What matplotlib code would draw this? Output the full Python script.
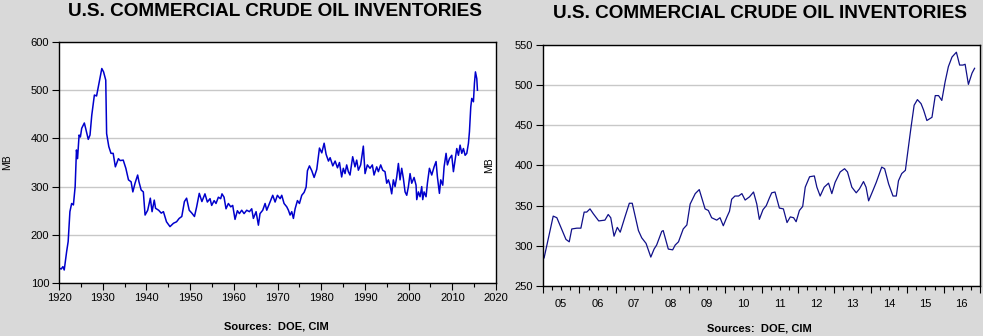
import matplotlib.pyplot as plt
from matplotlib.ticker import MultipleLocator, FixedLocator, NullFormatter
import numpy as np

# Long history (decimal year, million barrels)
hist_year = [1920.05, 1920.5, 1920.9, 1921.2, 1921.4, 1921.75, 1922.1, 1922.5, 1922.9, 1923.3,
             1923.7, 1924.0, 1924.25, 1924.6, 1924.9, 1925.2, 1925.8, 1926.1, 1926.7, 1927.1,
             1927.5, 1928.1, 1928.6, 1929.2, 1929.8, 1930.2, 1930.7, 1930.9, 1931.4, 1931.9,
             1932.4, 1932.9, 1933.6, 1934.0, 1934.7, 1935.3, 1935.9, 1936.5, 1936.9, 1937.4,
             1938.0, 1938.3, 1938.8, 1939.3, 1939.7, 1940.3, 1940.9, 1941.3, 1941.8, 1942.1,
             1942.8, 1943.4, 1943.9, 1944.6, 1945.4, 1946.2, 1946.9, 1947.5, 1948.1, 1948.7,
             1949.2, 1949.8, 1950.4, 1951.0, 1951.5, 1952.1, 1952.7, 1953.4, 1953.95, 1954.56,
             1954.94, 1955.5, 1955.93, 1956.47, 1957.0, 1957.3, 1957.77, 1958.22, 1958.76, 1959.3,
             1959.75, 1960.28, 1960.82, 1961.28, 1961.81, 1962.35, 1962.96, 1963.57, 1964.1, 1964.48,
             1965.1, 1965.63, 1966.0, 1966.62, 1967.16, 1967.54, 1968.3, 1968.91, 1969.45, 1969.98,
             1970.6, 1970.97, 1971.5, 1972.12, 1972.5, 1972.88, 1973.26, 1973.64, 1974.03, 1974.56,
             1975.02, 1975.55, 1976.09, 1976.55, 1976.85, 1977.31, 1977.84, 1978.38, 1978.99, 1979.37,
             1979.6, 1980.13, 1980.67, 1981.12, 1981.66, 1982.04, 1982.65, 1983.19, 1983.72, 1984.18,
             1984.68, 1985.06, 1985.45, 1985.83, 1986.21, 1986.59, 1987.2, 1987.73, 1988.12, 1988.5,
             1989.03, 1989.64, 1990.03, 1990.56, 1991.17, 1991.7, 1992.09, 1992.7, 1993.08, 1993.61,
             1994.07, 1994.6, 1994.99, 1995.37, 1995.75, 1996.13, 1996.51, 1996.9, 1997.28, 1997.66,
             1998.04, 1998.42, 1998.8, 1999.19, 1999.57, 1999.95, 2000.33, 2000.71, 2001.25, 2001.7,
             2001.86, 2002.24, 2002.62, 2003.0, 2003.23, 2003.54, 2003.99, 2004.3, 2004.76, 2005.29,
             2005.83, 2006.28, 2006.59, 2007.05, 2007.35, 2007.81, 2008.12, 2008.57, 2008.88, 2009.34,
             2009.87, 2010.25, 2010.64, 2011.02, 2011.4, 2011.78, 2012.16, 2012.54, 2012.93, 2013.31,
             2013.69, 2013.92, 2014.22, 2014.45, 2014.83, 2015.06, 2015.29, 2015.6, 2015.75]
hist_mb = [131, 129, 134, 127, 141, 165, 186, 248, 265, 262,
           300, 376, 358, 407, 403, 421, 432, 421, 398, 407,
           448, 490, 488, 517, 545, 538, 521, 410, 383, 369,
           369, 341, 358, 354, 355, 338, 314, 310, 289, 307,
           324, 310, 293, 289, 241, 251, 276, 248, 272, 255,
           251, 245, 248, 227, 217, 224, 227, 234, 238, 269,
           276, 251, 245, 238, 258, 286, 269, 285, 268, 275,
           261, 271, 265, 278, 275, 285, 278, 254, 265, 258,
           261, 232, 250, 244, 251, 244, 251, 248, 254, 234,
           248, 220, 244, 251, 265, 251, 268, 282, 268, 282,
           275, 282, 265, 258, 251, 241, 248, 234, 254, 271,
           265, 282, 288, 299, 333, 343, 333, 319, 336, 363,
           380, 370, 390, 367, 353, 360, 343, 353, 339, 350,
           320, 338, 327, 345, 331, 324, 362, 341, 355, 334,
           345, 384, 327, 345, 338, 345, 324, 341, 331, 345,
           334, 331, 307, 314, 303, 285, 314, 300, 320, 348,
           314, 338, 317, 289, 282, 300, 327, 307, 319, 303,
           273, 289, 279, 300, 273, 289, 279, 307, 338, 324,
           341, 352, 320, 286, 314, 303, 341, 369, 345, 358,
           365, 331, 355, 379, 365, 386, 369, 379, 365, 369,
           390, 414, 465, 483, 476, 514, 538, 524, 500]

# Recent period
recent_year = [2005.03, 2005.28, 2005.38, 2005.63, 2005.72, 2005.79, 2005.93, 2006.04, 2006.13, 2006.2,
               2006.29, 2006.38, 2006.53, 2006.70, 2006.79, 2006.86, 2006.95, 2007.04, 2007.12, 2007.25,
               2007.37, 2007.45, 2007.62, 2007.71, 2007.83, 2007.96, 2008.05, 2008.12, 2008.26, 2008.3,
               2008.44, 2008.56, 2008.63, 2008.72, 2008.85, 2008.95, 2009.04, 2009.18, 2009.29, 2009.45,
               2009.54, 2009.63, 2009.77, 2009.86, 2009.95, 2010.05, 2010.12, 2010.18, 2010.27, 2010.37,
               2010.46, 2010.55, 2010.67, 2010.78, 2010.87, 2010.94, 2011.04, 2011.13, 2011.22, 2011.28,
               2011.37, 2011.49, 2011.60, 2011.70, 2011.79, 2011.88, 2011.95, 2012.04, 2012.13, 2012.2,
               2012.32, 2012.45, 2012.52, 2012.61, 2012.72, 2012.84, 2012.93, 2013.02, 2013.16, 2013.28,
               2013.36, 2013.48, 2013.6, 2013.69, 2013.8, 2013.87, 2013.94, 2014.06, 2014.15, 2014.3,
               2014.38, 2014.49, 2014.61, 2014.7, 2014.76, 2014.85, 2014.95, 2015.01, 2015.1, 2015.19,
               2015.28, 2015.38, 2015.45, 2015.54, 2015.68, 2015.77, 2015.86, 2015.95, 2016.04, 2016.13,
               2016.23, 2016.35, 2016.44, 2016.53, 2016.59, 2016.68, 2016.78, 2016.85]
recent_mb = [285, 337, 335, 308, 305, 321, 322, 322, 342, 342,
             346, 340, 331, 332, 339, 335, 312, 323, 317, 336,
             353, 353, 319, 310, 303, 286, 296, 301, 318, 319,
             296, 295, 301, 305, 321, 326, 352, 365, 370, 346,
             344, 335, 332, 335, 325, 336, 343, 358, 362, 362,
             365, 357, 361, 367, 352, 333, 345, 350, 360, 366,
             367, 347, 346, 329, 336, 335, 330, 344, 349, 373,
             386, 387, 373, 362, 373, 378, 365, 379, 392, 396,
             392, 373, 366, 371, 380, 373, 356, 369, 379, 398,
             396, 377, 362, 362, 381, 390, 394, 415, 446, 475,
             482, 477, 469, 456, 460, 487, 487, 481, 504, 523,
             535, 541, 525, 525, 526, 501, 515, 521]

title = 'U.S. COMMERCIAL CRUDE OIL INVENTORIES'
source = 'Sources:  DOE, CIM'

plt.rcParams['font.family'] = 'Liberation Sans'
bg = '#d9d9d9'
grid_c = '#c8c8c8'

fig = plt.figure(figsize=(9.83, 3.36), dpi=100, facecolor=bg)
ax1 = fig.add_axes([0.0600, 0.1577, 0.4446, 0.7173])
ax2 = fig.add_axes([0.5524, 0.1488, 0.4446, 0.7173])

# left: 1920 onward
ax1.plot(hist_year, hist_mb, color='#0000cc', lw=1.1)
ax1.set_xlim(1920, 2020)
ax1.set_ylim(100, 600)
ax1.xaxis.set_major_locator(MultipleLocator(10))
ax1.xaxis.set_minor_locator(MultipleLocator(5))
ax1.yaxis.set_major_locator(MultipleLocator(100))
ax1.set_ylabel('MB', fontsize=7.5)
ax1.yaxis.set_label_coords(-0.107, 0.5)

# right: 2005 onward
ax2.plot(recent_year, recent_mb, color='#101088', lw=0.9)
ax2.set_xlim(2005, 2017)
ax2.set_ylim(250, 550)
years = np.arange(2005, 2018)
ax2.xaxis.set_major_locator(FixedLocator(years))
ax2.xaxis.set_major_formatter(NullFormatter())
ax2.xaxis.set_minor_locator(MultipleLocator(0.25))
ax2.yaxis.set_major_locator(MultipleLocator(50))
for y in years[:-1]:
    ax2.text(y + 0.5, -0.055, '%02d' % (y % 100), transform=ax2.get_xaxis_transform(),
             ha='center', va='top', fontsize=8)
ax2.set_ylabel('MB', fontsize=7.5)
ax2.yaxis.set_label_coords(-0.112, 0.5)

for ax in (ax1, ax2):
    ax.set_facecolor('white')
    ax.yaxis.grid(True, color=grid_c, lw=1.0)
    ax.set_axisbelow(True)
    for s in ax.spines.values():
        s.set_color('black')
        s.set_linewidth(1.0)
    ax.tick_params(axis='both', which='major', direction='out', length=5, width=0.8,
                   labelsize=8, pad=2)
    ax.tick_params(axis='x', which='minor', direction='out', length=3, width=0.8)
    ax.tick_params(axis='y', which='minor', length=0)

fig.text(0.280, 0.965, title, ha='center', va='center', fontsize=13.7, fontweight='bold')
fig.text(0.773, 0.960, title, ha='center', va='center', fontsize=13.7, fontweight='bold')
fig.text(0.281, 0.027, source, ha='center', va='center', fontsize=8, fontweight='bold')
fig.text(0.773, 0.021, source, ha='center', va='center', fontsize=8, fontweight='bold')

fig.savefig('out.png', dpi=100, facecolor=bg)
